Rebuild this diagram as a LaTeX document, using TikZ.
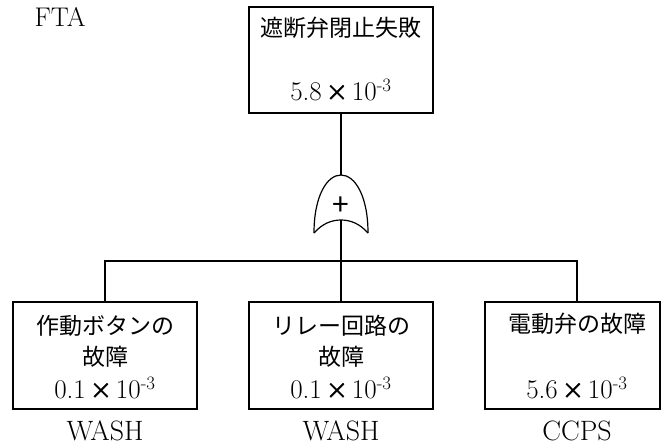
\documentclass[tikz,border=0pt]{standalone}
\usepackage{fontspec}
\newfontfamily\jp{Noto Sans CJK JP}
\newfontfamily\jpb[FakeBold=1.5]{Noto Sans CJK JP}
\begin{document}
\begin{tikzpicture}[x=1pt,y=-1pt,
  box/.style={draw, line width=1.5pt, minimum width=184pt, minimum height=107pt, inner sep=0pt},
  conn/.style={line width=1.3pt},
  gate/.style={line width=1.2pt},
  lbl/.style={inner sep=0pt, font=\fontsize{28}{28}\selectfont},
  jpt/.style={inner sep=0pt, font=\jp\fontsize{23}{23}\selectfont},
  num/.style={inner sep=0pt, font=\fontsize{27}{27}\selectfont},
]
\useasboundingbox (0,0) rectangle (661,447);
\newcommand{\tms}{\hspace{0.15em}{\jpb\fontsize{22}{22}\selectfont ×}\hspace{0.15em}}

\node[inner sep=0pt, font=\fontsize{27}{27}\selectfont] (fta) at (60,17) {FTA};

% top event
\node[box, minimum height=106pt] (top) at (341,60) {};
\node[jpt] (toptxt) at (341,28) {遮断弁閉止失敗};
\node[num] (topnum) at (341,90) {5.8\tms 10\textsuperscript{-3}};

% OR gate
\coordinate (gtop) at (341,175);
\coordinate (gin) at (341,220);
\draw[gate] (314,233) .. controls (314,196) and (327,175) .. (gtop)
            .. controls (355,175) and (368,196) .. (368,233);
\draw[gate] (314,233) .. controls (322,224) and (331,220) .. (gin)
            .. controls (351,220) and (360,224) .. (368,233);
\node[inner sep=0pt, font=\jp\fontsize{30}{30}\selectfont] (plus) at (341,206) {+};

% basic events
\node[box] (b1) at (105,355.5) {};
\node[box] (b2) at (341,355.5) {};
\node[box, minimum width=175pt] (b3) at (572.5,355.5) {};
\coordinate (b3c) at (577,302);
\coordinate (bus) at (341,261);

\node[jpt] (b1a) at (105,326) {作動ボタンの};
\node[jpt] (b1b) at (105,357) {故障};
\node[num] (b1n) at (105,388) {0.1\tms 10\textsuperscript{-3}};

\node[jpt] (b2a) at (341,326) {リレー回路の};
\node[jpt] (b2b) at (341,357) {故障};
\node[num] (b2n) at (341,388) {0.1\tms 10\textsuperscript{-3}};

\node[jpt] (b3a) at (577,324) {電動弁の故障};
\node[num] (b3n) at (577,388) {5.6\tms 10\textsuperscript{-3}};

\node[lbl] (s1) at (105,431) {WASH};
\node[lbl] (s2) at (341,431) {WASH};
\node[lbl] (s3) at (577,431) {CCPS};

% connectors
\draw[conn] (top.south) -- (gtop);
\draw[conn] (gin) -- (b2.north);
\draw[conn] (b1.north) -- (b1.north |- bus) -- (b3c |- bus) -- (b3c);
\end{tikzpicture}
\end{document}
